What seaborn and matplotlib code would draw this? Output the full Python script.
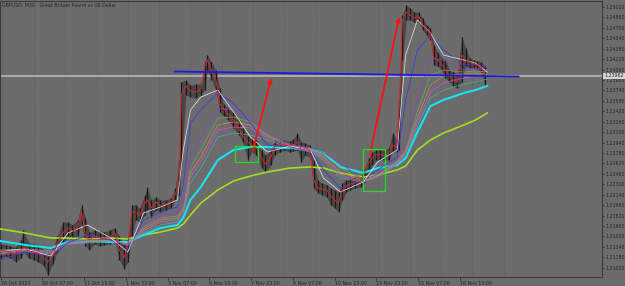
import numpy as np
import matplotlib
matplotlib.use("Agg")
import matplotlib.pyplot as plt
import matplotlib.transforms as mtransforms
from matplotlib.patches import Rectangle
import seaborn as sns

# GBPUSD M30, bar index counted from the first visible bar (26 Oct 23:00), weekends skipped
bars = [0, 8, 15, 23, 31, 35, 43, 51, 58, 66, 72, 80, 87, 95, 103, 110, 118, 124, 130, 136,
        144, 152, 159, 167, 175, 182, 189, 195, 201, 207, 213, 221, 225, 231, 238, 245, 253, 261, 268, 274,
        277, 284, 291, 299, 307, 313, 317, 323, 330, 336, 342, 349, 357, 365, 371, 379, 385, 392, 400, 406,
        414, 420, 428, 435, 443, 449, 455, 461, 467, 474, 480, 486, 493, 500, 506, 512, 518, 524, 530, 536,
        544, 552, 558, 564, 570, 576, 582, 589, 595, 601, 607, 611, 616, 622, 628, 634, 641, 647, 653, 659,
        664, 670, 676, 682, 688, 694, 700, 707, 713, 719, 725, 731, 737, 743]
high = [1.21383, 1.21368, 1.21353, 1.21337, 1.21445, 1.21598, 1.21399, 1.21383, 1.21368, 1.21291,
        1.21261, 1.21322, 1.21506, 1.21721, 1.21721, 1.21675, 1.21752, 1.21982, 1.21782, 1.21567,
        1.21598, 1.21583, 1.21567, 1.21598, 1.21629, 1.21506, 1.21368, 1.21475, 1.21982, 1.21982,
        1.21936, 1.22135, 1.22258, 1.22058, 1.22104, 1.22058, 1.22058, 1.22089, 1.22243, 1.22672,
        1.23869, 1.23900, 1.23823, 1.23838, 1.23838, 1.24176, 1.24283, 1.24176, 1.24053, 1.23777,
        1.23531, 1.23470, 1.23409, 1.23286, 1.23163, 1.23040, 1.23010, 1.22979, 1.22826, 1.22749,
        1.22826, 1.22979, 1.22979, 1.22979, 1.22964, 1.22994, 1.23086, 1.22948, 1.22933, 1.22902,
        1.22672, 1.22365, 1.22319, 1.22289, 1.22243, 1.22212, 1.22181, 1.22319, 1.22365, 1.22396,
        1.22411, 1.22427, 1.22549, 1.22703, 1.22795, 1.22826, 1.22826, 1.22826, 1.22856, 1.23086,
        1.22979, 1.23593, 1.24897, 1.25050, 1.25004, 1.24943, 1.24943, 1.24851, 1.24743, 1.24697,
        1.24437, 1.24329, 1.24237, 1.24206, 1.24053, 1.24022, 1.23992, 1.24559, 1.24391, 1.24237,
        1.24206, 1.24191, 1.24176, 1.24114]
low = [1.21169, 1.21199, 1.21169, 1.21107, 1.21169, 1.21261, 1.21169, 1.21138, 1.21107, 1.21046,
       1.20908, 1.21076, 1.21261, 1.21353, 1.21506, 1.21475, 1.21506, 1.21690, 1.21353, 1.21291,
       1.21383, 1.21353, 1.21368, 1.21383, 1.21445, 1.21138, 1.21000, 1.21107, 1.21506, 1.21752,
       1.21721, 1.21828, 1.21905, 1.21798, 1.21905, 1.21874, 1.21905, 1.21936, 1.22058, 1.22135,
       1.22595, 1.23669, 1.23639, 1.23623, 1.23669, 1.23746, 1.24053, 1.23900, 1.23746, 1.23409,
       1.23347, 1.23286, 1.23163, 1.23056, 1.22948, 1.22672, 1.22795, 1.22749, 1.22549, 1.22488,
       1.22595, 1.22749, 1.22795, 1.22826, 1.22795, 1.22810, 1.22826, 1.22641, 1.22749, 1.22718,
       1.22243, 1.22166, 1.22135, 1.22104, 1.21982, 1.21936, 1.21874, 1.22058, 1.22181, 1.22212,
       1.22243, 1.22258, 1.22335, 1.22488, 1.22595, 1.22672, 1.22672, 1.22672, 1.22672, 1.22795,
       1.22795, 1.22826, 1.24206, 1.24820, 1.24820, 1.24789, 1.24789, 1.24667, 1.24590, 1.24513,
       1.24130, 1.24114, 1.24053, 1.23930, 1.23869, 1.23808, 1.23777, 1.23869, 1.24114, 1.24084,
       1.24084, 1.24068, 1.24022, 1.23792]
close = [1.21291, 1.21276, 1.21261, 1.21230, 1.21291, 1.21337, 1.21276, 1.21261, 1.21245, 1.21169,
         1.21107, 1.21199, 1.21399, 1.21552, 1.21629, 1.21583, 1.21629, 1.21874, 1.21506, 1.21445,
         1.21506, 1.21475, 1.21460, 1.21491, 1.21552, 1.21291, 1.21169, 1.21353, 1.21874, 1.21874,
         1.21813, 1.22012, 1.22058, 1.21936, 1.22028, 1.21966, 1.21997, 1.22028, 1.22150, 1.22365,
         1.23669, 1.23808, 1.23731, 1.23715, 1.23761, 1.24099, 1.24206, 1.24053, 1.23900, 1.23531,
         1.23455, 1.23378, 1.23286, 1.23163, 1.23040, 1.22948, 1.22902, 1.22856, 1.22703, 1.22611,
         1.22703, 1.22887, 1.22902, 1.22902, 1.22887, 1.22902, 1.22948, 1.22826, 1.22856, 1.22826,
         1.22365, 1.22243, 1.22227, 1.22212, 1.22120, 1.22058, 1.22012, 1.22212, 1.22273, 1.22304,
         1.22335, 1.22350, 1.22488, 1.22626, 1.22703, 1.22749, 1.22764, 1.22733, 1.22780, 1.22902,
         1.22856, 1.23439, 1.24820, 1.24943, 1.24897, 1.24851, 1.24882, 1.24743, 1.24667, 1.24621,
         1.24237, 1.24206, 1.24145, 1.24053, 1.23961, 1.23900, 1.23869, 1.24283, 1.24206, 1.24176,
         1.24145, 1.24130, 1.24099, 1.23962]

# moving averages, read at these bars
ma_bars = [0, 38, 77, 103, 133, 169, 195, 219, 245, 271, 280, 291, 307, 333, 357, 383,
           409, 444, 475, 495, 521, 556, 578, 608, 621, 639, 659, 679, 710, 728, 746]
ma_white = [1.21276, 1.21307, 1.21199, 1.21552, 1.21675, 1.21475, 1.21261, 1.21859, 1.21951, 1.22058,
            1.22826, 1.23439, 1.23639, 1.23746, 1.23409, 1.23025, 1.22795, 1.22887, 1.22826, 1.22396,
            1.22181, 1.22335, 1.22641, 1.22826, 1.24283, 1.24820, 1.24621, 1.24283, 1.24206, 1.24160, 1.24022]
ma_blue = [1.21138, 1.21261, 1.21184, 1.21399, 1.21521, 1.21445, 1.21291, 1.21752, 1.21874, 1.21951,
           1.22289, 1.23240, 1.23439, 1.23700, 1.23547, 1.23240, 1.22902, 1.22872, 1.22826, 1.22519,
           1.22243, 1.22365, 1.22519, 1.22718, 1.23593, 1.24360, 1.24590, 1.24360, 1.24130, 1.24145, 1.24084]
ma_purple = [1.21215, 1.21261, 1.21215, 1.21414, 1.21445, 1.21460, 1.21353, 1.21675, 1.21798, 1.21859,
             1.21982, 1.22718, 1.23010, 1.23470, 1.23439, 1.23317, 1.23102, 1.22918, 1.22856, 1.22780,
             1.22626, 1.22365, 1.22457, 1.22672, 1.22902, 1.23593, 1.24237, 1.24206, 1.24053, 1.24084, 1.24053]
ma_green = [1.21230, 1.21276, 1.21230, 1.21399, 1.21429, 1.21460, 1.21368, 1.21644, 1.21782, 1.21813,
            1.21936, 1.22565, 1.22826, 1.23317, 1.23332, 1.23255, 1.23056, 1.22902, 1.22841, 1.22749,
            1.22549, 1.22365, 1.22442, 1.22657, 1.22826, 1.23409, 1.23976, 1.24053, 1.24022, 1.24038, 1.24022]
ma_orange = [1.21245, 1.21291, 1.21245, 1.21383, 1.21414, 1.21445, 1.21368, 1.21613, 1.21752, 1.21782,
             1.21905, 1.22473, 1.22718, 1.23209, 1.23255, 1.23209, 1.23040, 1.22887, 1.22826, 1.22718,
             1.22488, 1.22350, 1.22427, 1.22641, 1.22795, 1.23317, 1.23823, 1.23961, 1.23992, 1.24007, 1.23992]
ma_magenta = [1.21261, 1.21291, 1.21261, 1.21383, 1.21414, 1.21445, 1.21383, 1.21583, 1.21721, 1.21752,
              1.21874, 1.22411, 1.22641, 1.23132, 1.23178, 1.23163, 1.23010, 1.22872, 1.22810, 1.22703,
              1.22442, 1.22335, 1.22411, 1.22626, 1.22764, 1.23255, 1.23715, 1.23854, 1.23930, 1.23961, 1.23976]
ma_teal = [1.21291, 1.21307, 1.21276, 1.21383, 1.21399, 1.21429, 1.21383, 1.21552, 1.21675, 1.21721,
           1.21828, 1.22319, 1.22549, 1.23025, 1.23086, 1.23056, 1.22979, 1.22856, 1.22795, 1.22672,
           1.22396, 1.22335, 1.22411, 1.22611, 1.22733, 1.23194, 1.23623, 1.23746, 1.23838, 1.23869, 1.23915]
ma_cyan = [1.21429, 1.21368, 1.21322, 1.21414, 1.21429, 1.21414, 1.21414, 1.21521, 1.21629, 1.21675,
           1.21782, 1.22058, 1.22258, 1.22672, 1.22826, 1.22872, 1.22872, 1.22856, 1.22841, 1.22780,
           1.22565, 1.22473, 1.22549, 1.22595, 1.22703, 1.23102, 1.23501, 1.23593, 1.23700, 1.23746, 1.23808]
ma_lime = [1.21613, 1.21552, 1.21475, 1.21475, 1.21460, 1.21475, 1.21460, 1.21521, 1.21567, 1.21629,
           1.21690, 1.21828, 1.22012, 1.22212, 1.22350, 1.22427, 1.22488, 1.22549, 1.22565, 1.22549,
           1.22473, 1.22411, 1.22442, 1.22519, 1.22580, 1.22826, 1.22979, 1.23086, 1.23209, 1.23286, 1.23393]

bid = 1.23962
trend_bars = [267, 794]
trend_prices = [1.24030, 1.23953]
arrows = [((386, 1.22795), (415, 1.23930)), ((566, 1.22749), (611, 1.24866))]
boxes = [(360, 394, 1.22641, 1.22887), (556, 589, 1.22196, 1.22841)]

tick_bars = [0, 64, 128, 192, 256, 320, 384, 448, 512, 576, 640, 704]
tick_labels = ["26 Oct 2023", "30 Oct 07:00", "31 Oct 15:00", "1 Nov 23:00", "3 Nov 07:00",
               "6 Nov 15:00", "7 Nov 23:00", "9 Nov 07:00", "10 Nov 15:00", "13 Nov 23:00",
               "15 Nov 07:00", "16 Nov 15:00"]
grid_bars = list(range(3, 772, 48))
price_ticks = np.arange(1.21020, 1.25030, 0.0016)

bg = "#6c6c6c"
txt = "#262626"
fs = 3.4

fig = plt.figure(figsize=(6.25, 2.86), dpi=100, facecolor=bg)
ax = fig.add_axes([0.0, 9 / 286, 602 / 625, 276 / 286], facecolor=bg)

for g in grid_bars:
    ax.axvline(g, color="#525252", lw=0.5, ls=(0, (1, 2)), zorder=0)

ax.axhline(bid, color="#b8b8b8", lw=1.2, zorder=1)

# candles drawn as a dark high-low band
ax.fill_between(bars, low, high, color="#303030", alpha=0.6, lw=0, zorder=2)
ax.vlines(bars, low, high, color="#1a1a1a", lw=0.9, zorder=2)

thin = [(ma_teal, "#48a8a8"), (ma_magenta, "#d050d0"), (ma_orange, "#c08a48"),
        (ma_green, "#6aa466"), (ma_purple, "#9440c4"), (ma_blue, "#3838f0"), (ma_white, "#e0e0e0")]
sns.lineplot(x=ma_bars, y=ma_lime, color="#a2de20", lw=1.2, ax=ax, zorder=3)
sns.lineplot(x=ma_bars, y=ma_cyan, color="#12e6f4", lw=1.5, ax=ax, zorder=3)
for vals, c in thin:
    sns.lineplot(x=ma_bars, y=vals, color=c, lw=0.55, ax=ax, zorder=4)
sns.lineplot(x=bars, y=close, color="#e02424", lw=0.7, ax=ax, zorder=5)

# objects drawn on the chart
sns.lineplot(x=trend_bars, y=trend_prices, color="#1a1ae6", lw=1.3, ax=ax, zorder=6)
for (b0, p0), (b1, p1) in arrows:
    ax.annotate("", xy=(b1, p1), xytext=(b0, p0), zorder=7,
                arrowprops=dict(arrowstyle="-|>", color="#ff1010", lw=1.3, mutation_scale=6,
                                shrinkA=0, shrinkB=0))
for b0, b1, p0, p1 in boxes:
    ax.add_patch(Rectangle((b0, p0), b1 - b0, p1 - p0, fill=False, ec="#22dd22", lw=0.9, zorder=7))

ax.set_xlim(-1, 922)
ax.set_ylim(1.20877, 1.25112)
ax.set_xlabel("")
ax.set_ylabel("")

ax.set_xticks(tick_bars)
ax.set_xticklabels(tick_labels)
for lab in ax.get_xticklabels():
    lab.set_horizontalalignment("left")
ax.tick_params(axis="x", direction="out", length=2, width=0.5, pad=0.6, labelsize=fs,
               colors=txt)

ax.yaxis.tick_right()
ax.set_yticks(price_ticks)
ax.set_yticklabels([f"{p:.5f}" for p in price_ticks])
ax.tick_params(axis="y", direction="out", length=1.5, width=0.5, pad=1, labelsize=fs,
               colors=txt)

for s in ax.spines.values():
    s.set_color("#3a3a3a")
    s.set_linewidth(0.8)

trans = mtransforms.blended_transform_factory(ax.transAxes, ax.transData)
ax.text(1.004, bid, f"{bid:.5f}", transform=trans, fontsize=fs, color=txt, va="center",
        ha="left", zorder=10, clip_on=False,
        bbox=dict(boxstyle="square,pad=0.2", fc="#d4d4d4", ec="none"))

fig.text(0.004, 0.992, "GBPUSD, M30:  Great Britain Pound vs US Dollar", fontsize=fs,
         color=txt, va="top", ha="left")

fig.savefig("out.png", dpi=100, facecolor=bg)
